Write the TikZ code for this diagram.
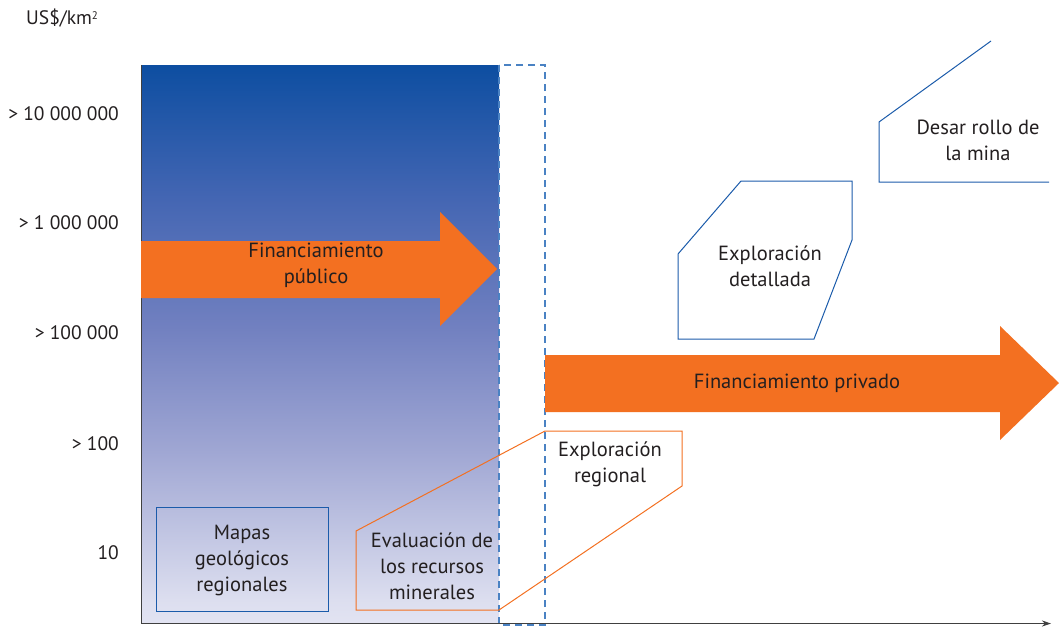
\documentclass[tikz,border=0pt]{standalone}
\usepackage{fontspec}
\setmainfont{PT Sans}
\usetikzlibrary{arrows.meta}
\definecolor{txt}{HTML}{231F20}
\definecolor{orng}{HTML}{F37021}
\definecolor{bline}{HTML}{1B5BAA}
\definecolor{dline}{HTML}{4A82C3}
\definecolor{gA}{HTML}{0D4EA1}
\definecolor{gB}{HTML}{4466B3}
\definecolor{gC}{HTML}{7180C0}
\definecolor{gD}{HTML}{9FA6D3}
\definecolor{gE}{HTML}{DCDEEF}
\definecolor{gF}{HTML}{E2E3F2}
\definecolor{axis}{HTML}{404040}
\pgfdeclareverticalshading{panelshade}{100bp}{color(0bp)=(gF); color(25bp)=(gF); color(27bp)=(gE); color(40.5bp)=(gD); color(51.5bp)=(gC); color(63bp)=(gB); color(75bp)=(gA); color(100bp)=(gA)}
\tikzset{
  lbl/.style={text=txt, font=\fontsize{20.5}{26}\selectfont, align=center, inner sep=0pt},
  ylbl/.style={text=txt, font=\fontsize{19.5}{22}\selectfont, anchor=east, inner sep=0pt},
  bluebox/.style={draw=bline, line width=1pt},
  orangebox/.style={draw=orng, line width=1pt},
  arrowbody/.style={fill=orng, draw=none}
}
\begin{document}
\begin{tikzpicture}[x=1pt,y=-1pt]
\useasboundingbox (0,0) rectangle (1059,627);
% gradient panel
\shade[shading=panelshade] (141,65) rectangle (499,622);
% dashed column
\draw[dline, line width=1.3pt, dash pattern=on 7pt off 5pt] (499,65) rectangle (545,625);
% axes
\coordinate (ytop) at (141,65);
\coordinate (orig) at (141,623.5);
\coordinate (xend) at (1051,623.5);
\draw[axis, line width=1pt, -{Stealth[length=9pt,width=6pt]}] (ytop) -- (orig) -- (xend);
% public arrow
\fill[arrowbody] (141,241) -- (440,241) -- (440,212) -- (497,269) -- (440,326) -- (440,298) -- (141,298) -- cycle;
\node[lbl] (pub) at (316,265) {Financiamiento\\público};
% private arrow
\fill[arrowbody] (545,355) -- (1000,355) -- (1000,326) -- (1059,383) -- (1000,440) -- (1000,412) -- (545,412) -- cycle;
\node[lbl] (priv) at (797,383) {Financiamiento privado};
% boxes
\draw[bluebox] (156,507) rectangle (328,611);
\node[lbl] (mapas) at (242,560) {Mapas\\geológicos\\regionales};
\draw[orangebox] (356,531) -- (545,431) -- (682,431) -- (682,486) -- (499,610) -- (356,610) -- cycle;
\node[lbl] (eval) at (432,566) {Evaluación de\\los recursos\\minerales};
\node[lbl] (expreg) at (610,464) {Exploración\\regional};
\draw[bluebox] (741,181) -- (852,181) -- (852,240) -- (814,339) -- (678,339) -- (678,254) -- cycle;
\node[lbl] (expdet) at (770,266) {Exploración\\detallada};
\draw[bluebox] (991,41) -- (879,122) -- (879,182) -- (1049,182);
\node[lbl] (mina) at (978,140) {Desar rollo de\\la mina};
% y labels
\node[ylbl] (l1) at (119,114) {> 10 000 000};
\node[ylbl] (l2) at (119,223) {> 1 000 000};
\node[ylbl] (l3) at (119,333) {> 100 000};
\node[ylbl] (l4) at (119,444) {> 100};
\node[ylbl] (l5) at (119,553) {10};
\node[text=txt, font=\fontsize{19.5}{22}\selectfont, anchor=west, inner sep=0pt] (unit) at (26,18) {US\$/km\raisebox{5pt}{\fontsize{11}{12}\selectfont 2}};
\end{tikzpicture}
\end{document}
